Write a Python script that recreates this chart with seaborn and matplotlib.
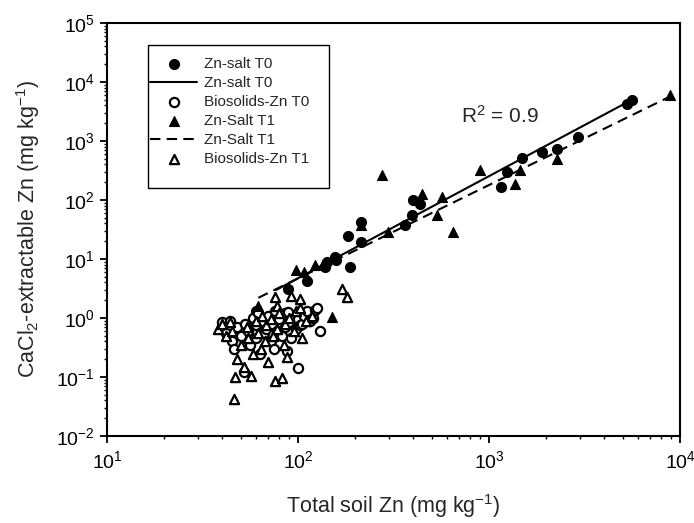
import numpy as np
import pandas as pd
import matplotlib
matplotlib.use("Agg")
import matplotlib.pyplot as plt
from matplotlib.ticker import LogLocator, NullFormatter
from matplotlib.patches import Rectangle
import seaborn as sns

# ---------------- data ----------------
salt_t0_x = [5300, 5600, 2940, 2260, 1887, 1483, 1238, 1156, 398, 435, 394, 363,
             213, 183, 213, 187, 156, 159, 141, 138, 111, 89, 60]
salt_t0_y = [4200, 4900, 1175, 745, 654, 525, 299, 166, 99, 87, 55, 37,
             42, 25, 19.4, 7.3, 10.7, 9.5, 8.9, 7.3, 4.3, 3.1, 1.3]

bios_t0_x = [40, 42, 44, 45, 46, 48, 50, 52, 53, 55, 56, 58, 60, 60, 62, 63, 65, 66,
             68, 70, 72, 73, 75, 76, 78, 80, 82, 85, 86, 88, 89, 90, 92, 95, 98, 100,
             100, 103, 105, 108, 112, 115, 120, 123, 125, 130]
bios_t0_y = [0.85, 0.55, 0.9, 0.4, 0.3, 0.7, 0.5, 0.12, 0.8, 0.6, 0.35, 1.0, 0.75, 0.45,
             1.2, 0.25, 0.9, 0.55, 0.65, 1.1, 0.4, 0.8, 0.3, 1.3, 0.6, 0.95, 0.5, 0.7,
             1.2, 0.28, 1.25, 0.85, 0.45, 1.0, 0.65, 0.95, 0.14, 0.75, 0.8, 1.1, 1.3,
             0.9, 1.0, 1.35, 1.5, 0.6]

salt_t1_x = [8870, 2260, 1452, 1367, 898, 274, 444, 565, 532, 650, 215, 297,
             98, 107, 123, 135, 150, 62]
salt_t1_y = [6000, 505, 319, 190, 319, 263, 128, 112, 55, 28.6, 38, 28.6,
             6.4, 6.0, 7.8, 8.2, 1.03, 1.6]

bios_t1_x = [38, 40, 42, 44, 45, 46, 47, 48, 50, 52, 54, 55, 57, 58, 60, 62, 64, 65,
             67, 68, 70, 72, 74, 76, 76, 77.5, 78, 80, 82, 84, 86, 88, 90, 92, 95, 98,
             103, 103, 105, 110, 118, 169, 180]
bios_t1_y = [0.65, 0.8, 0.5, 0.85, 0.6, 0.042, 0.099, 0.2, 0.35, 0.15, 0.7, 0.45, 0.106,
             0.25, 0.9, 0.55, 0.3, 1.1, 0.4, 0.75, 0.18, 0.95, 0.5, 0.087, 2.25, 1.6,
             0.65, 1.2, 0.095, 0.35, 0.8, 0.22, 1.0, 2.4, 0.6, 1.3, 2.1, 1.5, 0.45, 0.9,
             1.1, 3.1, 2.25]

fit_t0_x = [77, 5600]
fit_t0_y = [3.0, 5000]
fit_t1_x = [62, 8800]
fit_t1_y = [2.2, 5600]

r2_text = "R$^2$ = 0.9"

# ---------------- styling ----------------
sns.set_theme(style="ticks")
plt.rcParams["font.family"] = ["Liberation Sans", "DejaVu Sans"]
plt.rcParams["mathtext.fontset"] = "custom"
plt.rcParams["mathtext.rm"] = "Liberation Sans"
plt.rcParams["mathtext.it"] = "Liberation Sans:italic"
plt.rcParams["mathtext.bf"] = "Liberation Sans:bold"

W, H = 694, 523
L, R, T, B = 107, 680, 23, 436
fig = plt.figure(figsize=(W / 100, H / 100), dpi=100)
ax = fig.add_axes([L / W, (H - B) / H, (R - L) / W, (B - T) / H])

def ax_x(px):
    return (px - L) / (R - L)

def ax_y(py):
    return (B - py) / (B - T)

msize = 52
osize = 44
sns.scatterplot(x=salt_t0_x, y=salt_t0_y, ax=ax, marker="o", s=msize,
                color="black", edgecolor="black", linewidth=0.8,
                label="Zn-salt T0", zorder=3)
sns.lineplot(x=fit_t0_x, y=fit_t0_y, ax=ax, color="black", linewidth=1.5,
             linestyle="-", label="Zn-salt T0", estimator=None, sort=False, zorder=2)
sns.scatterplot(x=bios_t0_x, y=bios_t0_y, ax=ax, marker="o", s=osize,
                facecolor="white", edgecolor="black", linewidth=1.6,
                label="Biosolids-Zn T0", zorder=3)
sns.scatterplot(x=salt_t1_x, y=salt_t1_y, ax=ax, marker="^", s=msize,
                color="black", edgecolor="black", linewidth=0.8,
                label="Zn-Salt T1", zorder=3)
sns.lineplot(x=fit_t1_x, y=fit_t1_y, ax=ax, color="black", linewidth=1.5,
             linestyle=(0, (5, 3)), label="Zn-Salt T1", estimator=None, sort=False, zorder=2)
sns.scatterplot(x=bios_t1_x, y=bios_t1_y, ax=ax, marker="^", s=osize,
                facecolor="white", edgecolor="black", linewidth=1.6,
                label="Biosolids-Zn T1", zorder=3)

ax.set_xscale("log")
ax.set_yscale("log")
ax.set_xlim(10, 1e4)
ax.set_ylim(1e-2, 1e5)

ax.xaxis.set_major_locator(LogLocator(base=10, numticks=20))
ax.yaxis.set_major_locator(LogLocator(base=10, numticks=20))
ax.xaxis.set_minor_locator(LogLocator(base=10, subs=np.arange(2, 10), numticks=100))
ax.yaxis.set_minor_locator(LogLocator(base=10, subs=np.arange(2, 10), numticks=100))
ax.xaxis.set_minor_formatter(NullFormatter())
ax.yaxis.set_minor_formatter(NullFormatter())

for sp in ax.spines.values():
    sp.set_linewidth(1.5)
    sp.set_color("black")
ax.tick_params(which="major", direction="out", length=5, width=1.3,
               labelsize=14, colors="black", pad=5)
ax.tick_params(which="minor", direction="out", length=2.5, width=1.0, colors="black")
ax.tick_params(axis="y", which="major", pad=4)

ax.set_xlabel("Total soil Zn (mg kg$^{-1}$)", fontsize=15.5)
ax.set_ylabel("CaCl$_2$-extractable Zn (mg kg$^{-1}$)", fontsize=15.5)
ax.xaxis.set_label_coords(0.5, ax_y(492))
ax.yaxis.set_label_coords(ax_x(42), 0.5)

ax.text(0.686, 0.775, r2_text, transform=ax.transAxes, fontsize=15,
        ha="center", va="center")

# legend box frame as in the reference
ax.add_patch(Rectangle((ax_x(148), ax_y(188)), ax_x(329) - ax_x(148),
                       ax_y(45) - ax_y(188), transform=ax.transAxes,
                       fill=True, facecolor="white", edgecolor="black",
                       linewidth=1.0, zorder=4))

handles, labels = ax.get_legend_handles_labels()
leg = ax.legend(handles, labels, loc="upper left",
                bbox_to_anchor=(ax_x(150), ax_y(57)),
                borderaxespad=0, borderpad=0, frameon=False, fontsize=11,
                handlelength=3.1, labelspacing=0.33, handletextpad=0.45)
leg.set_zorder(5)

fig.savefig("out.png", dpi=100)
